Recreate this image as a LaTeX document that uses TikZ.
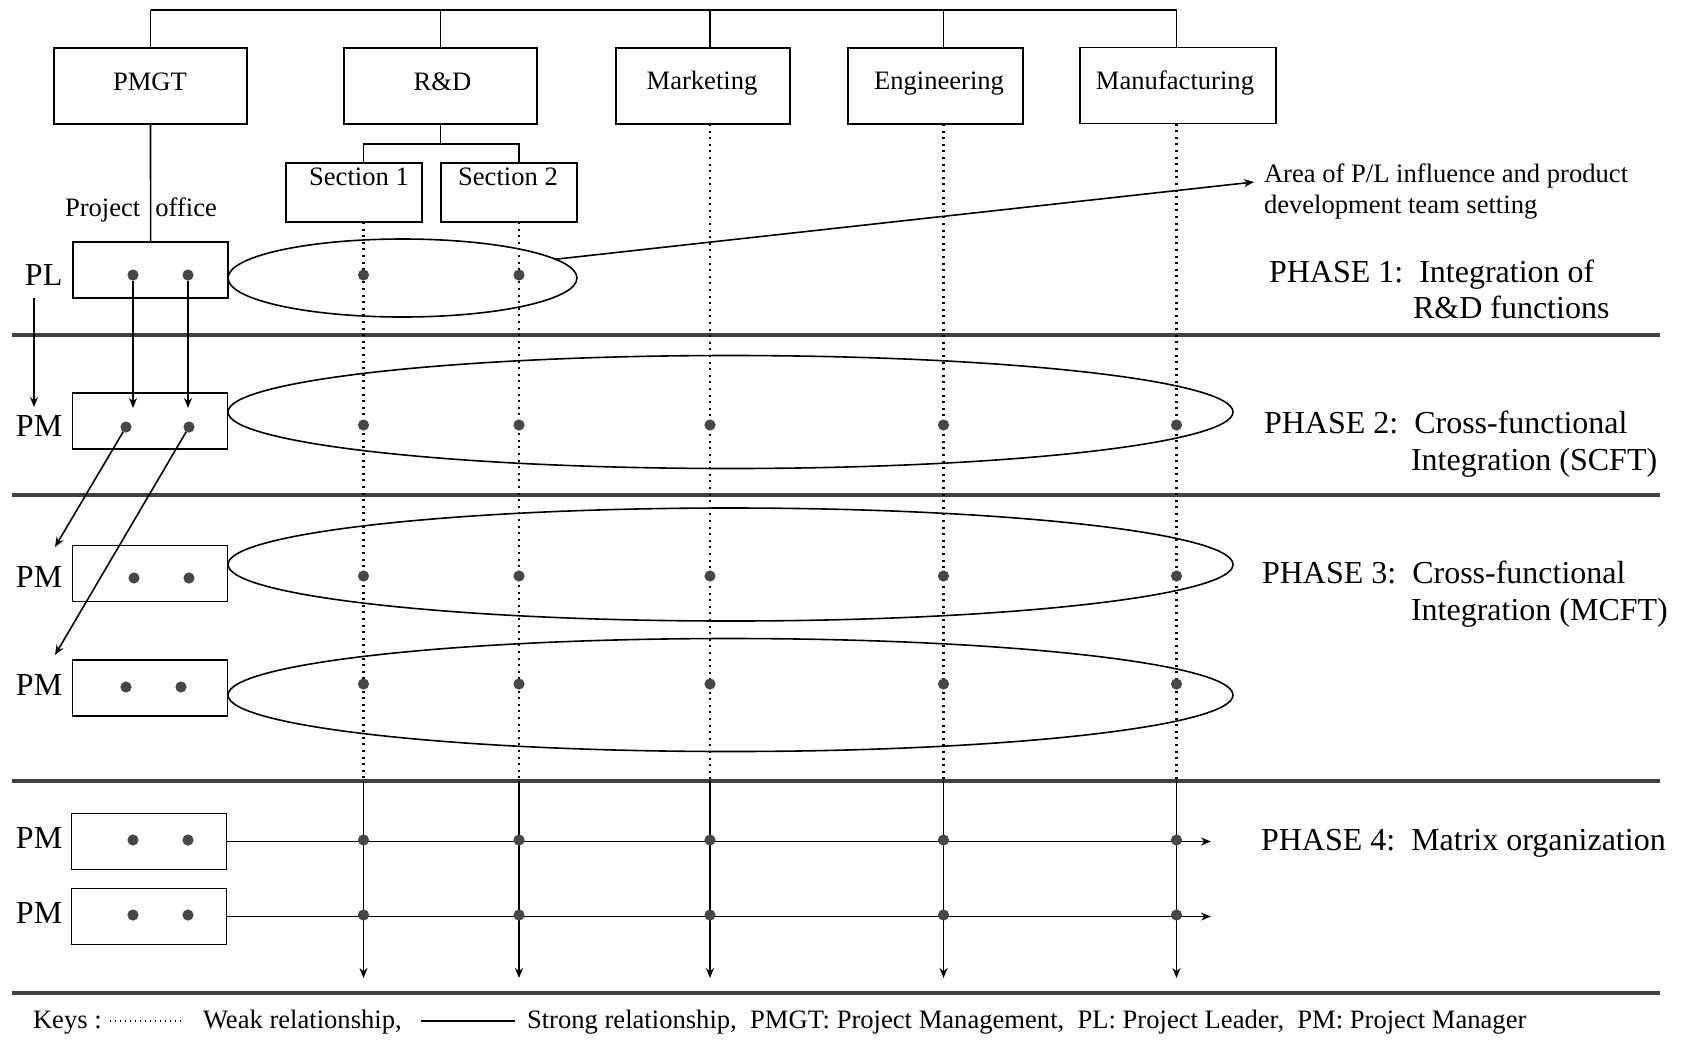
\documentclass[tikz,border=0pt]{standalone}
\usepackage{fontspec}
\setmainfont{Liberation Serif}
\usetikzlibrary{shapes.geometric,arrows.meta}

\newcommand{\fsA}{\fontsize{13.3}{16}\selectfont}
\newcommand{\fsP}{\fontsize{16}{19}\selectfont}

\begin{document}
\begin{tikzpicture}[x=0.5pt,y=-0.5pt,
  every node/.style={inner sep=0pt, outer sep=0pt},
  unit/.style={draw, line width=0.8pt, minimum height=38pt},
  secbox/.style={draw, line width=0.8pt, minimum width=68pt, minimum height=29.5pt},
  pbox/.style={draw, line width=0.8pt, minimum width=77.5pt, minimum height=28pt},
  team/.style={draw, line width=0.8pt, ellipse},
  lbl/.style={font=\fsA, anchor=base},
  txt/.style={font=\fsA, anchor=base west},
  rolelbl/.style={font=\fsP, anchor=base west},
  phase/.style={font=\fsP, anchor=base west},
  pt/.style={circle, fill=black!72, minimum size=5.6pt},
  link/.style={line width=0.8pt},
  weak/.style={line width=1.1pt, dash pattern=on 1pt off 2.3pt},
  strong/.style={line width=0.8pt},
  sep/.style={line width=1.7pt, black!75},
  arr/.style={-{Stealth[length=5pt,width=4pt]}, line width=0.8pt},
]
\useasboundingbox (0,0) rectangle (1685,1040);

% column and level references
\coordinate (cS1) at (363.5,0);
\coordinate (cS2) at (519,0);
\coordinate (cM)  at (710,0);
\coordinate (cE)  at (943.5,0);
\coordinate (cF)  at (1176.5,0);
\coordinate (busL) at (150.5,10);
\coordinate (busR) at (1176.5,10);
\coordinate (sepA1) at (12,335)  ; \coordinate (sepA2) at (1660,335);
\coordinate (sepB1) at (12,495)  ; \coordinate (sepB2) at (1660,495);
\coordinate (sepC1) at (12,781)  ; \coordinate (sepC2) at (1660,781);
\coordinate (sepD1) at (12,993)  ; \coordinate (sepD2) at (1660,993);
\coordinate (tipY) at (0,978);
\coordinate (tipX) at (1211,0);
\coordinate (downY) at (0,408);

% functional units
\node[unit, minimum width=96.5pt] (pmgt) at (150.5,86) {};
\node[unit, minimum width=96.5pt] (rd)   at (440.5,86) {};
\node[unit, minimum width=87pt]   (mkt)  at (703,86) {};
\node[unit, minimum width=87.5pt] (eng)  at (935.5,86) {};
\node[unit, minimum width=98pt]   (mfg)  at (1178,85.5) {};
\node[lbl] (pmgtT) at (150,90) {PMGT};
\node[lbl] (rdT)   at (442.5,90) {R\&D};
\node[lbl] (mktT)  at (702,89) {Marketing};
\node[lbl] (engT)  at (939,89) {Engineering};
\node[lbl] (mfgT)  at (1175,89) {Manufacturing};

% top bus
\draw[link] (busL) -- (busR);
\draw[link] (pmgt.north) -- (busL);
\draw[link] (rd.north) -- (rd.north |- busL);
\draw[link] (mkt.north -| cM) -- (busL -| cM);
\draw[link] (eng.north -| cE) -- (busL -| cE);
\draw[link] (mfg.north -| cF) -- (busR);

% R&D sections
\node[secbox] (s1) at (354,192.5) {};
\node[secbox] (s2) at (509,192.5) {};
\node[lbl] (s1T) at (359,185) {Section 1};
\node[lbl] (s2T) at (508,185) {Section 2};
\draw[link] (rd.south) -- ++(0,20) coordinate (rdj);
\draw[link] (s1.north -| cS1) |- (rdj) -| (s2.north -| cS2);

% project office
\node[pbox] (pl) at (150.6,270) {};
\draw[link] (pmgt.south) -- (pl.north);
\node[txt] (po) at (65,216.5) {Project\hspace{7.5pt}office};

% separators
\draw[sep] (sepA1) -- (sepA2);
\draw[sep] (sepB1) -- (sepB2);
\draw[sep] (sepC1) -- (sepC2);
\draw[sep] (sepD1) -- (sepD2);

% weak (dotted) functional lines
\draw[weak] (s1.south -| cS1) -- (sepC1 -| cS1);
\draw[weak] (s2.south -| cS2) -- (sepC1 -| cS2);
\draw[weak] (mkt.south -| cM) -- (sepC1 -| cM);
\draw[weak] (eng.south -| cE) -- (sepC1 -| cE);
\draw[weak] (mfg.south -| cF) -- (sepC1 -| cF);

% project boxes
\node[pbox] (pm2)  at (150,421) {};
\node[pbox] (pm3a) at (150,573.5) {};
\node[pbox] (pm3b) at (150,688) {};
\node[pbox] (pm4a) at (149,841.5) {};
\node[pbox] (pm4b) at (149,916.5) {};
\node[rolelbl] (plL)   at (25,285.5) {PL};
\node[rolelbl] (pm2L)  at (16,436) {PM};
\node[rolelbl] (pm3aL) at (16,587) {PM};
\node[rolelbl] (pm3bL) at (16,695) {PM};
\node[rolelbl] (pm4aL) at (16,848) {PM};
\node[rolelbl] (pm4bL) at (16,923) {PM};

% team ellipses
\node[team, minimum width=174.5pt, minimum height=39pt]   (e1) at (402.5,278) {};
\node[team, minimum width=502.5pt, minimum height=56.5pt] (e2) at (730.5,412) {};
\node[team, minimum width=502.5pt, minimum height=56.5pt] (e3) at (730.5,564.5) {};
\node[team, minimum width=502.5pt, minimum height=56.5pt] (e4) at (730.5,695) {};

% matrix organization (strong lines)
\foreach \c in {cS1,cS2,cM,cE,cF}
  \draw[arr] (sepC1 -| \c) -- (tipY -| \c);
\draw[arr] (pm4a.east) -- (pm4a.east -| tipX);
\draw[arr] (pm4b.east) -- (pm4b.east -| tipX);

% members in project boxes
\node[pt] (pl-a) at (133,275) {};   \node[pt] (pl-b) at (188,275) {};
\node[pt] (pm2-a) at (126,427) {};  \node[pt] (pm2-b) at (189,427) {};
\node[pt] (pm3a-a) at (134,578) {}; \node[pt] (pm3a-b) at (189,578) {};
\node[pt] (pm3b-a) at (126,687) {}; \node[pt] (pm3b-b) at (181,687) {};
\node[pt] (pm4a-a) at (133,840) {}; \node[pt] (pm4a-b) at (188,840) {};
\node[pt] (pm4b-a) at (133,915) {}; \node[pt] (pm4b-b) at (188,915) {};

% members in functions
\node[pt] (p1a) at (363.5,275) {};
\node[pt] (p1b) at (519,275) {};
\foreach \c/\n in {cS1/1,cS2/2,cM/3,cE/4,cF/5}{
  \node[pt] (p2-\n) at (\c |- 0,425) {};
  \node[pt] (p3-\n) at (\c |- 0,576) {};
  \node[pt] (p4-\n) at (\c |- 0,684) {};
  \node[pt] (p5-\n) at (\c |- 0,840) {};
  \node[pt] (p6-\n) at (\c |- 0,915) {};
}

% transitions between phases
\coordinate (plA) at (34,298);
\coordinate (plB) at (34,407);
\draw[arr] (plA) -- (plB);
\draw[arr] (pl-a) -- (pl-a |- downY);
\draw[arr] (pl-b) -- (pl-b |- downY);
\coordinate (dA) at (55,547);
\coordinate (dB) at (55,655);
\draw[arr] (pm2-a) -- (dA);
\draw[arr] (pm2-b) -- (dB);

% area of influence note
\node[txt] (area1) at (1264,182.5) {Area of P/L influence and product};
\node[txt] (area2) at (1264,213) {development team setting};
\coordinate (areatip) at (1254,182);
\draw[arr] (e1.7) -- (areatip);

% phase labels
\node[phase] (ph1a) at (1269,282) {PHASE 1:\ \ Integration of};
\node[phase] (ph1b) at (1413,318) {R\&D functions};
\node[phase] (ph2a) at (1264,433) {PHASE 2:\ \ Cross-functional};
\node[phase] (ph2b) at (1411,470) {Integration (SCFT)};
\node[phase] (ph3a) at (1262,583) {PHASE 3:\ \ Cross-functional};
\node[phase] (ph3b) at (1411,620) {Integration (MCFT)};
\node[phase] (ph4)  at (1261,850) {PHASE 4:\ \ Matrix organization};

% keys
\node[txt] (keys) at (33,1028) {Keys :};
\coordinate (kw1) at (110,1021); \coordinate (kw2) at (182,1021);
\draw[weak, dash pattern=on 0.7pt off 1.8pt, line width=0.8pt] (kw1) -- (kw2);
\node[txt] (kweak) at (203,1028) {Weak relationship,};
\coordinate (ks1) at (421,1021); \coordinate (ks2) at (515,1021);
\draw[strong] (ks1) -- (ks2);
\node[txt] (krest) at (527,1028) {Strong relationship,\ \ PMGT: Project Management,\ \ PL: Project Leader,\ \ PM: Project Manager};
\end{tikzpicture}
\end{document}
